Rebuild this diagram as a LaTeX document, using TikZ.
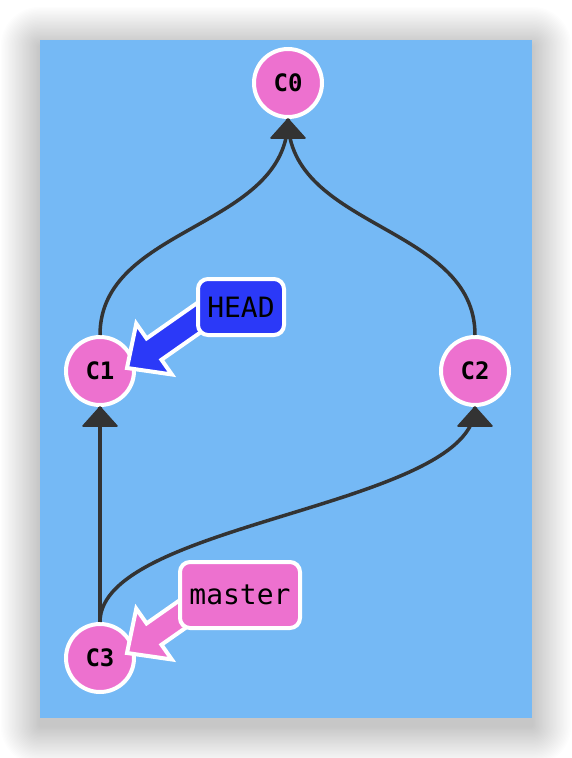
\documentclass[tikz,border=0pt]{standalone}
\usepackage{fontspec}
\newfontfamily\monofam{DejaVu Sans Mono}
\definecolor{bgblue}{RGB}{117,185,245}
\definecolor{cpink}{RGB}{237,113,207}
\definecolor{headblue}{RGB}{43,57,248}
\definecolor{edgegray}{RGB}{51,51,51}
\begin{document}
\begin{tikzpicture}[x=1pt,y=-1pt,
  commit/.style={circle, draw=white, line width=4pt, fill=cpink, minimum size=68pt, inner sep=0pt,
    font=\monofam\bfseries\fontsize{24}{24}\selectfont},
  branchlbl/.style={rectangle, rounded corners=10pt, draw=white, line width=4pt, inner sep=0pt,
    font=\monofam\fontsize{28}{28}\selectfont},
  edge/.style={draw=edgegray, line width=3.5pt},
  tri/.style={fill=edgegray, draw=edgegray, line width=1.5pt, line join=round},
  fat/.style={draw=white, line width=4pt, line join=miter}]
\useasboundingbox (0,0) rectangle (572,758);
% shadow
\foreach \i in {1,...,28} {
  \pgfmathsetmacro{\rc}{1.4*\i}
  \fill[black, opacity=0.009, rounded corners=\rc pt] (40-1.4*\i, 46-1.4*\i) rectangle (532+1.4*\i, 726+1.4*\i);
}
\fill[bgblue] (40,40) rectangle (532,718);
% commits
\node[commit] (c0) at (288,83) {C0};
\node[commit] (c1) at (100,371) {C1};
\node[commit] (c2) at (475,371) {C2};
\node[commit] (c3) at (100,658) {C3};
% edges
\draw[edge] (c1.north) .. controls +(0,-110) and +(0,110) .. (c0.south);
\draw[edge] (c2.north) .. controls +(0,-110) and +(0,110) .. (c0.south);
\draw[edge] (c3.north) -- (c1.south);
\draw[edge] (c3.north) .. controls +(0,-100) and +(0,100) .. (c2.south);
\foreach \n in {c0,c1,c2} {
  \filldraw[tri] (\n.south) -- ++(-17,19) -- ++(34,0) -- cycle;
}
% fat arrows
\coordinate (headtip) at (127,368);
\coordinate (mastertip) at (127,653);
\begin{scope}[shift={(headtip)}, rotate=35]
  \filldraw[fat, fill=headblue] (0,0) -- (33,31) -- (33,13) -- (95,13) -- (95,-13) -- (33,-13) -- (33,-31) -- cycle;
\end{scope}
\begin{scope}[shift={(mastertip)}, rotate=35]
  \filldraw[fat, fill=cpink] (0,0) -- (33,31) -- (33,13) -- (95,13) -- (95,-13) -- (33,-13) -- (33,-31) -- cycle;
\end{scope}
% branch labels
\node[branchlbl, fill=headblue, minimum width=86pt, minimum height=56pt] (head) at (241,307) {HEAD};
\node[branchlbl, fill=cpink, minimum width=120pt, minimum height=66pt] (master) at (240,595) {master};
\end{tikzpicture}
\end{document}
